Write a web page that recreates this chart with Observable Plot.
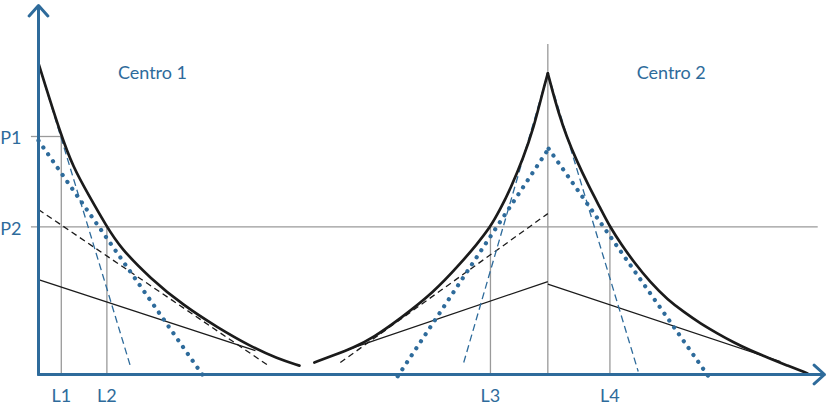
<!DOCTYPE html>
<html>
<head>
<meta charset="utf-8">
<script src="https://cdn.jsdelivr.net/npm/d3@7"></script>
<script src="https://cdn.jsdelivr.net/npm/@observablehq/plot@0.6"></script>
<style>
  html, body { margin: 0; padding: 0; background: #fff; }
  #chart svg { display: block; }
</style>
</head>
<body>
<div id="chart"></div>
<script>
// ---- data (arbitrary units: distance 0..100, rent 0..100) ----
const rentLabels = ["P1", "P2"];
const rentValues = [64.5, 40];
const distLabels = ["L1", "L2", "L3", "L4"];
const distValues = [2.9, 8.7, 57.5, 72.7];
const centreNames = ["Centro 1", "Centro 2"];
const centreLabelX = [14.5, 80.5];
const centreLabelY = [81.6, 81.6];
const centre2X = 64.8;
const centre2Top = 89.4;

// bid-rent envelope curves
const centro1X = [0, 2.9, 4.45, 6.2, 8.7, 10.4, 14.25, 18.45, 22.8, 27, 30.4, 33.2];
const centro1Y = [84.3, 64.5, 56.1, 49.3, 40, 34.4, 26, 18.7, 12.7, 7.6, 4.3, 2.4];
const centro2LeftX = [35.1, 37.5, 40.1, 42.6, 46.05, 50.25, 53.7, 55.85, 57.5, 58.8, 60.05, 61.7, 63.0, 64.1, 64.8];
const centro2LeftY = [3.25, 5.15, 7.3, 10.0, 15.2, 22.2, 30.1, 35.5, 40, 45.0, 50.4, 58.8, 66.9, 76.2, 81.6];
const centro2RightX = [64.8, 65.4, 66.16, 67.18, 68.45, 69.97, 71.5, 72.7, 74.17, 75.7, 77.86, 80.03, 82.19, 84.22, 86.39, 88.42, 90.59, 92.75, 95.29, 97.84];
const centro2RightY = [81.6, 76.7, 71.0, 64.5, 58.0, 51.2, 45.0, 40, 35.2, 30.6, 24.9, 20.3, 16.8, 13.8, 11.1, 8.7, 6.5, 4.6, 2.4, 0.3];

// individual bid-rent lines (start x, start y, end x, end y)
const solidX1 = [0, 39.7, 64.8], solidY1 = [25.7, 7.0, 24.5];
const solidX2 = [27.6, 64.8, 94.4], solidY2 = [6.5, 25.2, 3.5];
const blackDashX1 = [0, 38.4], blackDashY1 = [44.7, 3.25];
const blackDashX2 = [29.4, 64.8], blackDashY2 = [2.2, 43.6];
const blueDashX1 = [0, 54.1, 64.8], blueDashY1 = [84.3, 3.25, 81.6];
const blueDashX2 = [11.7, 64.8, 76.3], blueDashY2 = [2.2, 81.6, 0.8];
const blueDotX1 = [0, 45.7, 64.9], blueDotY1 = [63.4, -0.5, 61.2];
const blueDotX2 = [21.0, 64.9, 85.6], blueDotY2 = [-0.5, 61.2, -1.6];

const xDomain = [0, 100];
const yDomain = [0, 100];

// ---- helpers ----
const pts = (X, Y) => X.map((x, i) => ({x, y: Y[i]}));
const segs = (X1, Y1, X2, Y2) => X1.map((x1, i) => ({x1, y1: Y1[i], x2: X2[i], y2: Y2[i]}));

const BLUE = "#2e6b9b";
const GRAY = "#9a9a9a";
const INK = "#1b1b1b";

const rentRows = rentLabels.map((label, i) => ({label, y: rentValues[i]}));
const distRows = distLabels.map((label, i) => ({label, x: distValues[i]}));
const centreRows = centreNames.map((label, i) => ({label, x: centreLabelX[i], y: centreLabelY[i]}));

// guide lines derived from the read values
const leftStub = -0.9, rightEnd = 99.2;
const hGuides = [
  {x1: leftStub, x2: distValues[0], y: rentValues[0]},
  {x1: leftStub, x2: rightEnd, y: rentValues[1]}
];
const vGuides = [
  {x: distValues[0], y1: 0, y2: rentValues[0]},
  {x: distValues[1], y1: 0, y2: rentValues[1]},
  {x: distValues[2], y1: 0, y2: rentValues[1]},
  {x: distValues[3], y1: 0, y2: rentValues[1]},
  {x: centre2X, y1: 0, y2: centre2Top}
];
const axes = [
  {x1: xDomain[0], y1: yDomain[0], x2: xDomain[0], y2: yDomain[1]},
  {x1: xDomain[0], y1: yDomain[0], x2: xDomain[1], y2: yDomain[0]}
];

const chart = Plot.plot({
  width: 826,
  height: 408,
  marginLeft: 38,
  marginRight: 2,
  marginTop: 5,
  marginBottom: 34,
  x: {domain: xDomain, axis: null},
  y: {domain: yDomain, axis: null},
  style: {fontFamily: "Lato, 'Open Sans', sans-serif", fontSize: "18px", background: "#fff", overflow: "visible"},
  marks: [
    Plot.ruleY(hGuides, {y: "y", x1: "x1", x2: "x2", stroke: GRAY, strokeWidth: 1.3}),
    Plot.ruleX(vGuides, {x: "x", y1: "y1", y2: "y2", stroke: GRAY, strokeWidth: 1.3}),
    Plot.link(segs(solidX1, solidY1, solidX2, solidY2), {x1: "x1", y1: "y1", x2: "x2", y2: "y2", stroke: INK, strokeWidth: 1.3}),
    Plot.link(segs(blackDashX1, blackDashY1, blackDashX2, blackDashY2), {x1: "x1", y1: "y1", x2: "x2", y2: "y2", stroke: INK, strokeWidth: 1.3, strokeDasharray: "6,4"}),
    Plot.link(segs(blueDashX1, blueDashY1, blueDashX2, blueDashY2), {x1: "x1", y1: "y1", x2: "x2", y2: "y2", stroke: BLUE, strokeWidth: 1.3, strokeDasharray: "7,4"}),
    Plot.link(segs(blueDotX1, blueDotY1, blueDotX2, blueDotY2), {x1: "x1", y1: "y1", x2: "x2", y2: "y2", stroke: BLUE, strokeWidth: 4.2, strokeLinecap: "round", strokeDasharray: "0.1,8.3"}),
    Plot.line(pts(centro1X, centro1Y), {x: "x", y: "y", curve: "basis", stroke: INK, strokeWidth: 2.7}),
    Plot.line(pts(centro2LeftX, centro2LeftY), {x: "x", y: "y", curve: "basis", stroke: INK, strokeWidth: 2.7}),
    Plot.line(pts(centro2RightX, centro2RightY), {x: "x", y: "y", curve: "basis", stroke: INK, strokeWidth: 2.7}),
    Plot.arrow(axes, {x1: "x1", y1: "y1", x2: "x2", y2: "y2", stroke: BLUE, strokeWidth: 3, headLength: 7, headAngle: 84}),
    Plot.text(rentRows, {x: xDomain[0], y: "y", text: "label", textAnchor: "end", dx: -17, dy: 2, fill: BLUE, fontSize: 18}),
    Plot.text(distRows, {x: "x", y: yDomain[0], text: "label", dy: 22, fill: BLUE, fontSize: 18}),
    Plot.text(centreRows, {x: "x", y: "y", text: "label", fill: BLUE, fontSize: 18})
  ]
});
document.getElementById("chart").appendChild(chart);
</script>
</body>
</html>
